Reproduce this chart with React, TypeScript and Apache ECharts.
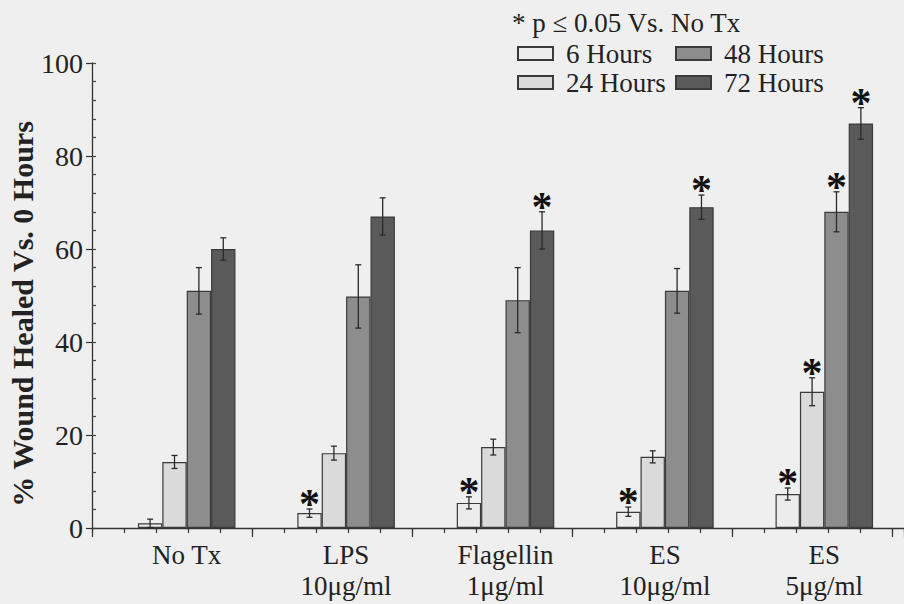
import React, { useEffect, useRef } from "react";
import * as echarts from "echarts";

const categories = ["No Tx", "LPS\n10μg/ml", "Flagellin\n1μg/ml", "ES\n10μg/ml", "ES\n5μg/ml"];
const seriesNames = ["6 Hours", "24 Hours", "48 Hours", "72 Hours"];
const means6 = [1.0, 3.2, 5.4, 3.5, 7.3];
const means24 = [14.2, 16.1, 17.4, 15.3, 29.3];
const means48 = [51, 49.8, 49, 51, 68];
const means72 = [60, 67, 64, 69, 87];
const errs6 = [0.9, 0.9, 1.3, 1.0, 1.3];
const errs24 = [1.4, 1.5, 1.7, 1.3, 3.0];
const errs48 = [5.0, 6.8, 7.0, 4.8, 4.3];
const errs72 = [2.4, 4.0, 4.0, 2.6, 3.4];
const sig6 = [false, true, true, true, true];
const sig24 = [false, false, false, false, true];
const sig48 = [false, false, false, false, true];
const sig72 = [false, false, true, true, true];
const yTicks = [0, 20, 40, 60, 80, 100];

const means = [means6, means24, means48, means72];
const errs = [errs6, errs24, errs48, errs72];
const sigs = [sig6, sig24, sig48, sig72];
const colors = ["#ececec", "#dadada", "#8d8d8d", "#5a5a5a"];
const FONT = "'Liberation Serif', 'Times New Roman', serif";
const BAR_FRAC = 0.153;

export default function App() {
  const ref = useRef<HTMLDivElement>(null);
  useEffect(() => {
    if (!ref.current) return;
    const chart = echarts.init(ref.current, undefined, { renderer: "svg" });

    const errData: any[] = [];
    for (let k = 0; k < 4; k++) {
      for (let i = 0; i < categories.length; i++) {
        errData.push([i, means[k][i], errs[k][i], k, sigs[k][i] ? 1 : 0]);
      }
    }

    const bars = seriesNames.map((name, k) => ({
      name,
      type: "bar",
      xAxisIndex: 0,
      yAxisIndex: 0,
      data: means[k],
      barWidth: (BAR_FRAC * 100).toFixed(1) + "%",
      barGap: "0%",
      itemStyle: { color: colors[k], borderColor: "#3a3a3a", borderWidth: 1.2 },
    }));

    const legendPos = [
      { left: 517, top: 40 },
      { left: 517, top: 69 },
      { left: 675, top: 40 },
      { left: 675, top: 69 },
    ];

    const xMin = 2.03125;
    const xMax = 27.40625;

    chart.setOption({
      animation: false,
      backgroundColor: "#efefef",
      title: {
        text: "* p ≤ 0.05 Vs. No Tx",
        left: 512,
        top: 9,
        padding: 0,
        textStyle: { fontFamily: FONT, fontSize: 27, fontWeight: "normal", color: "#222" },
      },
      legend: seriesNames.map((n, k) => ({
        data: [n],
        left: legendPos[k].left,
        top: legendPos[k].top,
        padding: 0,
        icon: "rect",
        itemWidth: 35,
        itemHeight: 13,
        selectedMode: false,
        textStyle: { fontFamily: FONT, fontSize: 27, color: "#222", lineHeight: 24, padding: [0, 0, 0, 8] },
      })),
      graphic: [
        {
          type: "text",
          x: 22,
          y: 314,
          rotation: Math.PI / 2,
          style: {
            text: "% Wound Healed Vs. 0 Hours",
            fontFamily: FONT,
            fontSize: 30,
            fontWeight: "bold",
            fill: "#222",
            textAlign: "center",
            textVerticalAlign: "middle",
          },
        },
      ],
      grid: [
        { left: 107, width: 800, top: 63, height: 465 },
        { left: 92, right: 0, top: 63, height: 465 },
      ],
      xAxis: [
        {
          type: "category",
          gridIndex: 0,
          position: "bottom",
          data: categories,
          axisLine: { show: false },
          axisTick: { show: false },
          axisLabel: { fontFamily: FONT, fontSize: 27, color: "#222", lineHeight: 31, margin: 11 },
        },
        {
          type: "value",
          gridIndex: 1,
          position: "bottom",
          min: xMin,
          max: xMax,
          interval: 1,
          axisLine: { show: true, onZero: false, lineStyle: { color: "#333", width: 1.3 } },
          axisTick: { show: true, length: 5, lineStyle: { color: "#333", width: 1.2 } },
          axisLabel: { show: false },
          splitLine: { show: false },
        },
        {
          type: "value",
          gridIndex: 1,
          position: "bottom",
          offset: 0,
          min: xMin,
          max: xMax,
          interval: 5,
          axisLine: { show: false, onZero: false },
          axisTick: { show: true, length: 9, lineStyle: { color: "#333", width: 1.2 } },
          axisLabel: { show: false },
          splitLine: { show: false },
        },
      ],
      yAxis: [
        { type: "value", gridIndex: 0, min: 0, max: 100, show: false },
        {
          type: "value",
          gridIndex: 1,
          position: "left",
          min: 0,
          max: 100,
          interval: 20,
          axisLine: { show: true, onZero: false, lineStyle: { color: "#333", width: 1.3 } },
          axisTick: { show: true, length: 6, lineStyle: { color: "#333", width: 1.2 } },
          axisLabel: { fontFamily: FONT, fontSize: 28, color: "#222", margin: 9, customValues: yTicks },
          splitLine: { show: false },
        },
        {
          type: "value",
          gridIndex: 1,
          position: "left",
          offset: 0,
          min: 0,
          max: 100,
          interval: 4,
          axisLine: { show: false, onZero: false },
          axisTick: { show: true, inside: true, length: 4, lineStyle: { color: "#444", width: 1.2 } },
          axisLabel: { show: false },
          splitLine: { show: false },
        },
      ],
      series: [
        ...bars,
        {
          type: "custom",
          xAxisIndex: 0,
          yAxisIndex: 0,
          z: 5,
          data: errData,
          renderItem: (params: any, api: any) => {
            const i = api.value(0);
            const m = api.value(1);
            const e = api.value(2);
            const k = api.value(3);
            const s = api.value(4);
            const band = api.size([1, 0])[0];
            const cx = api.coord([i, 0])[0] + (k - 1.5) * band * BAR_FRAC;
            const yt = api.coord([i, m + e])[1];
            const yb = api.coord([i, Math.max(0, m - e)])[1];
            const st = { stroke: "#2a2a2a", lineWidth: 1.3 };
            const children: any[] = [
              { type: "line", shape: { x1: cx, y1: yt, x2: cx, y2: yb }, style: st },
              { type: "line", shape: { x1: cx - 3, y1: yt, x2: cx + 3, y2: yt }, style: st },
              { type: "line", shape: { x1: cx - 3, y1: yb, x2: cx + 3, y2: yb }, style: st },
            ];
            if (s) {
              children.push({
                type: "text",
                x: cx,
                y: yt - 5,
                style: {
                  text: "*",
                  fontFamily: FONT,
                  fontSize: 42,
                  fontWeight: "bold",
                  fill: "#111",
                  textAlign: "center",
                  textVerticalAlign: "middle",
                },
              });
            }
            return { type: "group", children };
          },
        },
      ],
    });
    return () => chart.dispose();
  }, []);
  return <div ref={ref} style={{ position: "fixed", left: 0, top: 0, width: 904, height: 604 }} />;
}
